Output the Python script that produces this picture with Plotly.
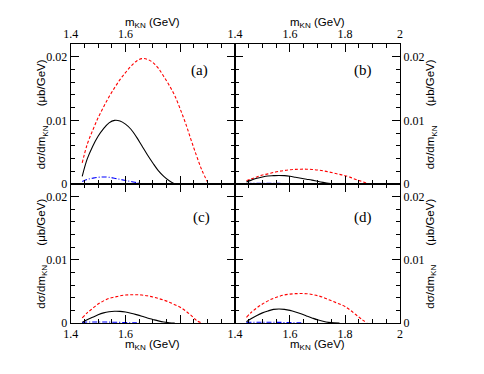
import plotly.graph_objects as go

# invariant mass grid (GeV)
mass = [1.442, 1.46, 1.48, 1.50, 1.52, 1.54, 1.56, 1.58, 1.60, 1.62, 1.64, 1.66,
        1.68, 1.70, 1.72, 1.74, 1.76, 1.78, 1.80, 1.82, 1.84, 1.86, 1.88, 1.90]

# panel (a)
a_solid = [0.0012, 0.0039, 0.0059, 0.0075, 0.0087, 0.0096, 0.0100, 0.0099, 0.0094, 0.0086, 0.0074, 0.0060,
           0.0046, 0.0033, 0.0021, 0.0012, 0.0005, 0.0000, None, None, None, None, None, None]
a_dash = [0.0033, 0.0062, 0.0084, 0.0104, 0.0121, 0.0137, 0.0151, 0.0164, 0.0175, 0.0185, 0.0193, 0.0197,
          0.0196, 0.0191, 0.0182, 0.0169, 0.0155, 0.0139, 0.0118, 0.0095, 0.0069, 0.0044, 0.0021, 0.0003]
a_dashdot = [0.0004, 0.0007, 0.0009, 0.00105, 0.0011, 0.00105, 0.0009, 0.00072, 0.00055, 0.00038, 0.0002, 0.00005,
             None, None, None, None, None, None, None, None, None, None, None, None]

# panel (b)
b_solid = [0.0003, 0.0006, 0.0009, 0.0011, 0.00125, 0.0013, 0.00133, 0.0013, 0.0012, 0.00105, 0.0009, 0.00075,
           0.0006, 0.00042, 0.00025, 0.0001, 0.00003, 0.0, None, None, None, None, None, None]
b_dash = [0.0005, 0.0008, 0.0011, 0.0014, 0.00158, 0.0018, 0.00198, 0.00212, 0.00222, 0.00229, 0.00232, 0.00232,
          0.00228, 0.0022, 0.00207, 0.0019, 0.0017, 0.0015, 0.0013, 0.00103, 0.0007, 0.0004, 0.0001, 0.0]
b_dashdot = [0.00006, 0.0001, 0.0001, 0.0001, 0.0001, 0.0001, 0.00009, 0.00007, 0.00005, 0.00003, 0.00001, 0.0,
             None, None, None, None, None, None, None, None, None, None, None, None]

# panel (c)
c_solid = [0.0001, 0.0005, 0.0009, 0.0013, 0.0016, 0.00178, 0.00186, 0.00184, 0.00173, 0.00155, 0.00132, 0.00107,
           0.0008, 0.00056, 0.00033, 0.00015, 0.00005, 0.0, None, None, None, None, None, None]
c_dash = [0.0008, 0.0016, 0.0023, 0.0030, 0.0035, 0.0039, 0.0041, 0.0043, 0.00442, 0.00447, 0.00447, 0.00442,
          0.0043, 0.00412, 0.00388, 0.00362, 0.0033, 0.0029, 0.0025, 0.0019, 0.0012, 0.0004, 0.0, None]
c_dashdot = [0.0001, 0.00015, 0.00015, 0.00015, 0.00015, 0.00014, 0.00012, 0.0001, 0.00007, 0.00004, 0.00001, 0.0,
             None, None, None, None, None, None, None, None, None, None, None, None]

# panel (d)
d_solid = [0.0002, 0.0007, 0.0012, 0.0016, 0.0019, 0.00215, 0.00222, 0.00216, 0.0020, 0.00175, 0.00145, 0.00112,
           0.0008, 0.0005, 0.00027, 0.0001, 0.00002, 0.0, None, None, None, None, None, None]
d_dash = [0.0009, 0.0017, 0.0024, 0.0030, 0.0035, 0.0039, 0.0042, 0.00444, 0.00457, 0.00464, 0.00466, 0.00463,
          0.00452, 0.00433, 0.00406, 0.0037, 0.00335, 0.0030, 0.0026, 0.0020, 0.0013, 0.0006, 0.0, None]
d_dashdot = [0.0001, 0.00012, 0.00012, 0.00012, 0.00012, 0.00011, 0.0001, 0.00008, 0.00006, 0.00003, 0.00001, 0.0,
             None, None, None, None, None, None, None, None, None, None, None, None]

panels = [("(a)", a_solid, a_dash, a_dashdot),
          ("(b)", b_solid, b_dash, b_dashdot),
          ("(c)", c_solid, c_dash, c_dashdot),
          ("(d)", d_solid, d_dash, d_dashdot)]

x_ticks = [1.4, 1.6, 1.8, 2.0]
x_text_left = ["1.4", "1.6", " ", " "]
x_text_right = ["1.4", "1.6", "1.8", "2"]
y_ticks = [0, 0.01, 0.02]
y_text = ["0", "0.01", "0.02"]

W, H = 484, 374
# pixel boxes of the four frames
left_dom = [56 / W, 224 / W]
right_dom = [224 / W, 393 / W]
top_dom = [1 - 179.3 / H, 1 - 36.7 / H]
bot_dom = [1 - 321 / H, 1 - 179.3 / H]

SERIF = "Times New Roman, Liberation Serif, Tinos, serif"
SANS = "Arial, Liberation Sans, Arimo, sans-serif"

fig = go.Figure()

for i, (lab, solid, dash, dashdot) in enumerate(panels):
    n = "" if i == 0 else str(i + 1)
    fig.add_trace(go.Scatter(x=mass, y=dashdot, mode="lines", xaxis="x" + n, yaxis="y" + n,
                             line=dict(color="#0000ff", width=1.1, dash="5px,2px,1px,2px", shape="spline"),
                             showlegend=False))
    fig.add_trace(go.Scatter(x=mass, y=dash, mode="lines", xaxis="x" + n, yaxis="y" + n,
                             line=dict(color="#ff0000", width=1.1, dash="3px,2px", shape="spline"),
                             showlegend=False))
    fig.add_trace(go.Scatter(x=mass, y=solid, mode="lines", xaxis="x" + n, yaxis="y" + n,
                             line=dict(color="black", width=1.1, shape="spline"),
                             showlegend=False))

tick_font = dict(family=SERIF, size=12, color="black")
common = dict(showline=True, linecolor="black", linewidth=1, mirror="ticks",
              ticks="inside", ticklen=8, tickcolor="black", tickwidth=1,
              showgrid=False, zeroline=False, tickfont=tick_font, fixedrange=True)

layout = {}
for i in range(4):
    n = "" if i == 0 else str(i + 1)
    is_top = i < 2
    is_left = i % 2 == 0
    layout["xaxis" + n] = dict(
        common, domain=left_dom if is_left else right_dom, range=[1.4, 2.0],
        anchor="y" + n, side="top" if is_top else "bottom",
        tickmode="array", tickvals=x_ticks,
        ticktext=x_text_left if is_left else x_text_right,
        minor=dict(ticks="inside", ticklen=4, tickcolor="black", tickmode="linear", tick0=1.4, dtick=0.05),
    )
    layout["yaxis" + n] = dict(
        common, domain=top_dom if is_top else bot_dom, range=[0, 0.022],
        anchor="x" + n, side="left" if is_left else "right",
        tickmode="array", tickvals=y_ticks, ticktext=y_text,
        minor=dict(ticks="inside", ticklen=4, tickcolor="black", tickmode="linear", tick0=0, dtick=0.002),
    )

title_font = dict(family=SANS, size=11.5, color="black")
ytitle = "dσ/dm<sub>KN</sub>      (μb/GeV)"
xtitle = "m<sub>KN</sub> (GeV)"
annotations = []
for cx in (140, 308.5):
    for cy in (15, 343):
        annotations.append(dict(text=xtitle, x=cx / W, y=1 - cy / H, xref="paper", yref="paper",
                                showarrow=False, font=title_font, xanchor="center", yanchor="middle"))
for cx in (27, 425):
    for cy in (108, 250):
        annotations.append(dict(text=ytitle, x=cx / W, y=1 - cy / H, xref="paper", yref="paper",
                                showarrow=False, font=title_font, textangle=-90,
                                xanchor="center", yanchor="middle"))
for (lab, _, _, _), (cx, cy) in zip(panels, [(188, 64), (355, 64), (190, 213), (355, 213)]):
    annotations.append(dict(text=lab, x=cx / W, y=1 - cy / H, xref="paper", yref="paper",
                            showarrow=False, xanchor="center", yanchor="middle",
                            font=dict(family=SERIF, size=15, color="black")))

fig.update_layout(
    width=W, height=H, autosize=False,
    margin=dict(l=0, r=0, t=0, b=0),
    paper_bgcolor="white", plot_bgcolor="white",
    font=dict(family=SANS, color="black"),
    annotations=annotations,
    **layout,
)

fig.write_html("out.html")
